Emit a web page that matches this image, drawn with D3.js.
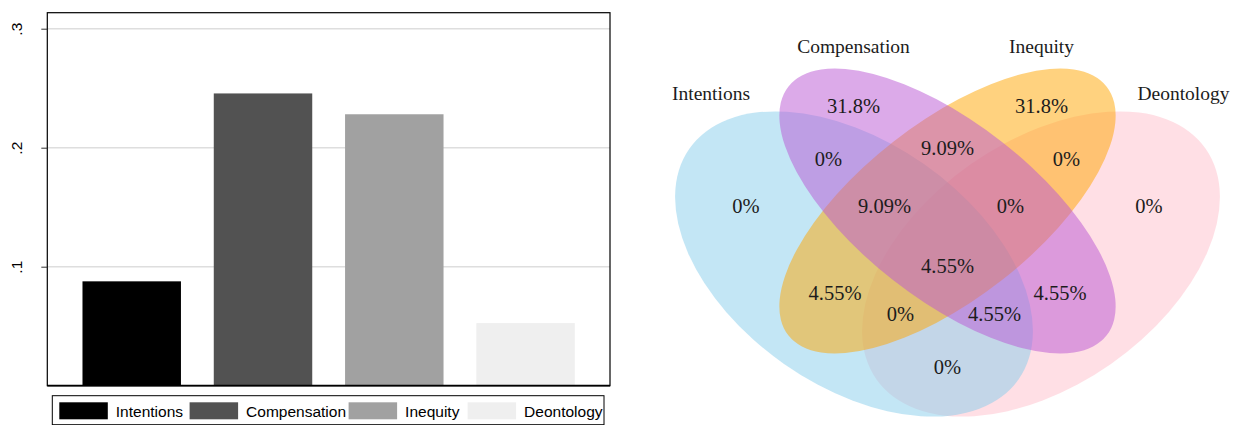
<!DOCTYPE html>
<meta charset="utf-8">
<style>
body { margin: 0; background: #fff; }
svg { display: block; }
.bars text { font-family: "Liberation Sans", Arial, sans-serif; fill: #000; }
.venn text { font-family: "Liberation Serif", "Times New Roman", serif; fill: #1c1c1c; }
</style>
<body>
<svg id="chart" width="1241" height="425"></svg>

<script src="https://d3js.org/d3.v7.min.js"></script>
<script>

// ---- bar chart data (shares out of 57 answers) ----
var categories = ["Intentions", "Compensation", "Inequity", "Deontology"];
var shares = [0.0877, 0.2456, 0.2281, 0.0526];
var barColors = ["#000000", "#525252", "#a1a1a1", "#efefef"];
var yTicks = [0.1, 0.2, 0.3];

// ---- venn data ----
var vennSets = ["Intentions", "Compensation", "Inequity", "Deontology"];
var vennColors = ["skyblue", "mediumorchid", "orange", "pink"];
var vennRegions = ["A", "B", "C", "D", "AB", "BC", "CD", "ABC", "BCD", "AC", "BD", "ACD", "ABD", "AD", "ABCD"];
var vennValues = ["0%", "31.8%", "31.8%", "0%", "0%", "9.09%", "0%", "9.09%", "0%", "4.55%", "4.55%", "0%", "4.55%", "0%", "4.55%"];

var svg = d3.select("#chart");

// ================= bar chart =================
var plot = {left: 47.3, right: 610, top: 12.7, bottom: 385.7};

var x = d3.scaleBand()
    .domain(categories)
    .range([plot.left, plot.right])
    .paddingInner(0.25)
    .paddingOuter(0.268);

var y = d3.scaleLinear()
    .domain([0, 0.3])
    .range([plot.bottom, 28.7]);

var g = svg.append("g").attr("class", "bars");

// gridlines
g.selectAll(".grid")
    .data(yTicks)
    .enter().append("line")
    .attr("x1", plot.left).attr("x2", plot.right)
    .attr("y1", function (d) { return y(d); })
    .attr("y2", function (d) { return y(d); })
    .attr("stroke", "#dedede")
    .attr("stroke-width", 1.5);

// bars
g.selectAll(".bar")
    .data(categories)
    .enter().append("rect")
    .attr("x", function (d) { return x(d); })
    .attr("width", x.bandwidth())
    .attr("y", function (d, i) { return y(shares[i]); })
    .attr("height", function (d, i) { return plot.bottom - y(shares[i]); })
    .attr("fill", function (d, i) { return barColors[i]; });

// frame
g.append("rect")
    .attr("x", plot.left).attr("y", plot.top)
    .attr("width", plot.right - plot.left)
    .attr("height", plot.bottom - plot.top)
    .attr("fill", "none")
    .attr("stroke", "#000")
    .attr("stroke-width", 1.2);
g.append("line")
    .attr("x1", plot.left).attr("x2", plot.right)
    .attr("y1", plot.bottom).attr("y2", plot.bottom)
    .attr("stroke", "#000").attr("stroke-width", 1.8);

// y axis
var yAxis = g.append("g")
    .attr("transform", "translate(" + plot.left + ",0)")
    .call(d3.axisLeft(y).tickValues(yTicks).tickSize(6)
        .tickFormat(function (d) { return d3.format(".1f")(d).replace(/^0/, ""); }));
yAxis.select(".domain").remove();
yAxis.selectAll(".tick line").attr("stroke", "#333");
yAxis.selectAll(".tick text")
    .attr("x", null).attr("dy", null)
    .attr("text-anchor", "middle")
    .attr("transform", "translate(-25.3,0) rotate(-90)")
    .style("font-family", "Liberation Sans, Arial, sans-serif")
    .style("font-size", "15.5px")
    .attr("fill", "#000");

// legend
var legendKeyX = [59.3, 189.6, 348.6, 467.6];
g.append("rect")
    .attr("x", 52.3).attr("y", 395.7)
    .attr("width", 604 - 52.3).attr("height", 29)
    .attr("fill", "#fff").attr("stroke", "#000").attr("stroke-width", 1);

var items = g.selectAll(".legend-item")
    .data(categories)
    .enter().append("g")
    .attr("transform", function (d, i) { return "translate(" + legendKeyX[i] + ",0)"; });
items.append("rect")
    .attr("y", 402.3).attr("width", 48.5).attr("height", 17)
    .attr("fill", function (d, i) { return barColors[i]; });
items.append("text")
    .attr("x", 56.5).attr("y", 417.3)
    .style("font-size", "15.5px")
    .text(function (d) { return d; });

// ================= venn diagram =================
var cx = 947.5;
var vx = d3.scaleLinear().domain([-300, 300]).range([cx - 300, cx + 300]);
var vy = d3.scaleLinear().domain([0, 425]).range([0, 425]);

// ellipse layout per set: centre offset, radii, rotation
var ellipseLayout = {
    Intentions:   {dx: -93.5, cy: 264, rx: 201, ry: 122, rot: 35},
    Compensation: {dx: 0,     cy: 211, rx: 202, ry: 88,  rot: 38},
    Inequity:     {dx: 0,     cy: 211, rx: 202, ry: 88,  rot: -38},
    Deontology:   {dx: 93.5,  cy: 264, rx: 201, ry: 122, rot: -35}
};
var drawOrder = [3, 0, 2, 1];

var labelLayout = {
    Intentions: [-236.5, 100], Compensation: [-94, 53],
    Inequity: [94, 53], Deontology: [236, 100]
};
var regionLayout = {
    A: [-201.5, 213], B: [-94, 113], C: [94, 113], D: [201.5, 213],
    AB: [-119, 166], BC: [0, 155], CD: [119, 166],
    ABC: [-63, 213], BCD: [63, 213],
    AC: [-112.5, 300], BD: [112.5, 300],
    ACD: [-47, 321], ABD: [47, 321],
    AD: [0, 374], ABCD: [0, 273]
};

var venn = svg.append("g").attr("class", "venn");

venn.selectAll("ellipse")
    .data(drawOrder)
    .enter().append("ellipse")
    .attr("rx", function (i) { return ellipseLayout[vennSets[i]].rx; })
    .attr("ry", function (i) { return ellipseLayout[vennSets[i]].ry; })
    .attr("transform", function (i) {
        var e = ellipseLayout[vennSets[i]];
        return "translate(" + vx(e.dx) + "," + vy(e.cy) + ") rotate(" + e.rot + ")";
    })
    .attr("fill", function (i) { return vennColors[i]; })
    .attr("fill-opacity", 0.5);

venn.selectAll(".set-label")
    .data(vennSets)
    .enter().append("text")
    .attr("x", function (d) { return vx(labelLayout[d][0]); })
    .attr("y", function (d) { return vy(labelLayout[d][1]); })
    .attr("text-anchor", "middle")
    .style("font-size", "19.5px")
    .text(function (d) { return d; });

venn.selectAll(".region")
    .data(vennRegions)
    .enter().append("text")
    .attr("x", function (d) { return vx(regionLayout[d][0]); })
    .attr("y", function (d) { return vy(regionLayout[d][1]); })
    .attr("text-anchor", "middle")
    .style("font-size", "20.5px")
    .text(function (d, i) { return vennValues[i]; });

</script>
</body>
